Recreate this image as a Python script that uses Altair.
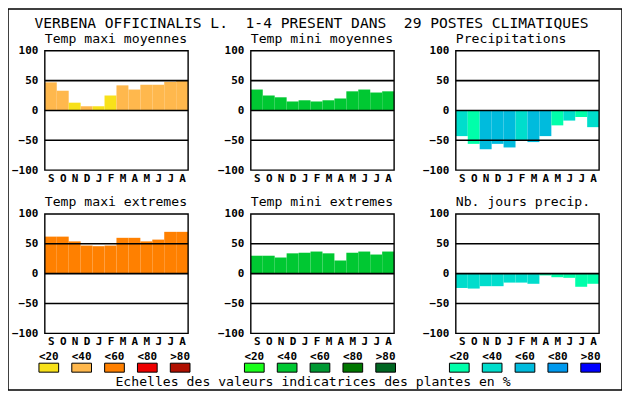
import altair as alt
import pandas as pd

# ---------------- data ----------------
months = ["S", "O", "N", "D", "J", "F", "M", "A", "M", "J", "J", "A"]

tmax_moy = [47, 33, 13, 7, 7, 25, 42, 35, 43, 43, 48, 51]
tmax_moy_cls = [1, 1, 0, 1, 0, 0, 1, 1, 1, 1, 1, 1]
tmin_moy = [35, 25, 22, 15, 17, 15, 17, 20, 32, 35, 30, 32]
tmin_moy_cls = [1] * 12
precip = [-43, -56, -65, -56, -62, -50, -53, -43, -25, -17, -11, -28]
precip_cls = [1, 0, 2, 2, 2, 1, 2, 2, 0, 1, 0, 1]
tmax_ext = [62, 62, 54, 47, 46, 47, 60, 60, 54, 57, 70, 70]
tmax_ext_cls = [2] * 12
tmin_ext = [30, 30, 27, 34, 35, 37, 34, 22, 35, 37, 32, 37]
tmin_ext_cls = [1] * 12
njours = [-24, -25, -21, -21, -15, -15, -17, -3, -6, -7, -22, -17]
njours_cls = [1, 1, 1, 1, 1, 1, 1, 0, 0, 0, 0, 0]

y_ticks = [-100, -50, 0, 50, 100]
grid_vals = [-50, 0, 50]
legend_labels = ["<20", "<40", "<60", "<80", ">80"]

NB = "\u00a0"
main_title = ("VERBENA OFFICINALIS L." + NB + NB + "1-4 PRESENT DANS" + NB + NB
              + "29 POSTES CLIMATIQUES")
footer = "Echelles des valeurs indicatrices des plantes en %"

# ---------------- styles ----------------
warm = ["#F8E11A", "#FFB84D", "#FF8000", "#EE0000", "#B01000"]
green = ["#1AFF1A", "#00C832", "#009933", "#007700", "#006622"]
blue = ["#00FFAA", "#00DDCC", "#00BBDD", "#0099EE", "#0000FF"]

FONT = "DejaVu Sans Mono"
OFF = 8
W, H = 617, 383
PW, PH = 144, 120

month_expr = "[" + ",".join("'%s'" % m for m in months) + "][floor(datum.value)]"


def panel(values, cls, palette, title, left, top, extra=None):
    gx0 = left - OFF
    gy0 = top - OFF
    xs = alt.Scale(domain=[0, 12], range=[gx0, gx0 + PW], nice=False, zero=False)
    ys = alt.Scale(domain=[-100, 100], range=[gy0 + PH, gy0], nice=False, zero=False)
    df = pd.DataFrame({
        "i": list(range(12)),
        "i2": list(range(1, 13)),
        "v": values,
        "c": [palette[k] for k in cls],
    })
    bars = alt.Chart(df).mark_rect(strokeWidth=0).encode(
        x=alt.X("i:Q", scale=xs, title=None,
                axis=alt.Axis(orient="bottom", offset=-(H - (gy0 + PH)),
                              values=[k + 0.5 for k in range(12)],
                              labelExpr=month_expr, ticks=False, domain=False,
                              grid=False, labelPadding=2, labelFont=FONT,
                              labelFontWeight="bold", labelFontSize=11,
                              labelColor="black", labelOverlap=False,
                              labelFlush=False)),
        x2="i2:Q",
        y=alt.Y("v:Q", scale=ys, title=None,
                axis=alt.Axis(orient="left", offset=-gx0, values=y_ticks,
                              ticks=False, domain=False, grid=False,
                              labelPadding=7, labelFont=FONT,
                              labelFontWeight="bold", labelFontSize=11,
                              labelColor="black", labelFlush=False,
                              labelOverlap=False)),
        y2=alt.datum(0),
        color=alt.Color("c:N", scale=None),
    )
    gdf = pd.DataFrame({"g": grid_vals})
    grid = alt.Chart(gdf).mark_rule(color="black", strokeWidth=1.6).encode(
        y=alt.Y("g:Q"), x=alt.datum(0), x2=alt.datum(12)
    )
    fdf = pd.DataFrame({"x0": [0], "x1": [12], "y0": [-100], "y1": [100], "t": [title]})
    frame = alt.Chart(fdf).mark_rect(fillOpacity=0, stroke="black", strokeWidth=1.4).encode(
        x="x0:Q", x2="x1:Q", y="y0:Q", y2="y1:Q"
    )
    ttl = alt.Chart(fdf).mark_text(align="left", baseline="alphabetic", dy=-8,
                                   font=FONT, fontSize=13.2, color="black").encode(
        x="x0:Q", y="y1:Q", text="t:N"
    )
    layers = [bars, grid, frame, ttl]
    if extra is not None:
        layers.append(extra)
    return alt.layer(*layers)


def legend(palette, left_center, with_footer=False):
    gx = left_center - 16.5 - OFF
    xs = alt.Scale(domain=[0, 5], range=[gx, gx + 165], nice=False, zero=False)
    ys = alt.Scale(domain=[0, 1], range=[373 - OFF, 364 - OFF], nice=False, zero=False)
    df = pd.DataFrame({
        "a": [k + 0.2 for k in range(5)],
        "b": [k + 0.8 for k in range(5)],
        "m": [k + 0.5 for k in range(5)],
        "lab": legend_labels,
        "c": palette,
        "y0": [0] * 5,
        "y1": [1] * 5,
    })
    sw = alt.Chart(df).mark_rect(stroke="black", strokeWidth=1).encode(
        x=alt.X("a:Q", scale=xs, axis=None), x2="b:Q",
        y=alt.Y("y0:Q", scale=ys, axis=None), y2="y1:Q",
        color=alt.Color("c:N", scale=None),
    )
    lab = alt.Chart(df).mark_text(baseline="bottom", dy=-1, font=FONT, fontSize=11,
                                  fontWeight="bold", color="black").encode(
        x="m:Q", y="y1:Q", text="lab:N"
    )
    layers = [sw, lab]
    if with_footer:
        fdf = pd.DataFrame({"m": [2.5], "y0": [0], "t": [footer]})
        ft = alt.Chart(fdf).mark_text(baseline="alphabetic", dy=14, dx=-7, font=FONT,
                                      fontSize=13.2, color="black").encode(
            x="m:Q", y="y0:Q", text="t:N"
        )
        layers.append(ft)
    return alt.layer(*layers)


tdf = pd.DataFrame({"m": [6], "y": [100], "t": [main_title]})
title_layer = alt.Chart(tdf).mark_text(baseline="alphabetic", dy=-23, dx=-11, font=FONT,
                                       fontSize=14.7, color="black").encode(
    x="m:Q", y="y:Q", text="t:N"
)

p1 = panel(tmax_moy, tmax_moy_cls, warm, "Temp maxi moyennes", 45, 50)
p2 = panel(tmin_moy, tmin_moy_cls, green, "Temp mini moyennes", 252, 50, extra=title_layer)
p3 = panel(precip, precip_cls, blue, "Precipitations", 458, 50)
p4 = panel(tmax_ext, tmax_ext_cls, warm, "Temp maxi extremes", 45, 214)
p5 = panel(tmin_ext, tmin_ext_cls, green, "Temp mini extremes", 252, 214)
p6 = panel(njours, njours_cls, blue, "Nb. jours precip.", 458, 214)

l1 = legend(warm, 49)
l2 = legend(green, 255.5, with_footer=True)
l3 = legend(blue, 461.5)

chart = alt.layer(p1, p2, p3, p4, p5, p6, l1, l2, l3).resolve_scale(
    x="independent", y="independent"
).resolve_axis(
    x="independent", y="independent"
).properties(
    width=W, height=H, autosize=alt.AutoSizeParams(type="none"), padding=0,
    background="white"
).configure_view(stroke="black", strokeWidth=1.5)

chart.save("out.html", embed_options={"renderer": "svg", "actions": False})
